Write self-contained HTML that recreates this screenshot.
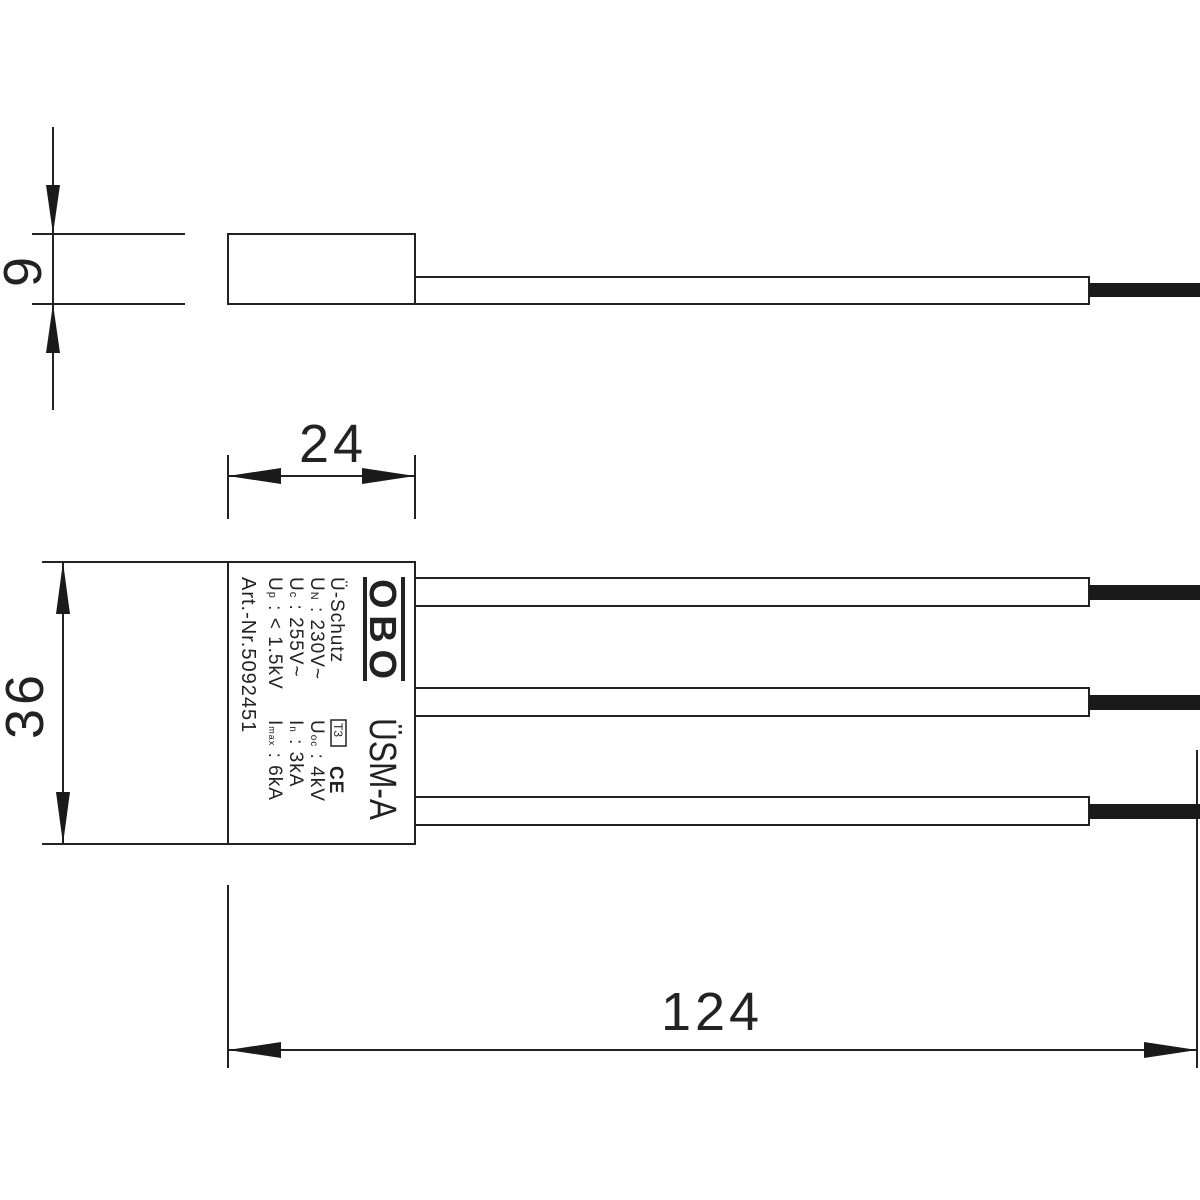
<!DOCTYPE html>
<html><head><meta charset="utf-8"><style>html,body{margin:0;padding:0;background:#fff}svg{display:block}</style></head>
<body>
<svg width="1200" height="1200" viewBox="0 0 1200 1200" xmlns="http://www.w3.org/2000/svg" font-family="Liberation Sans, sans-serif">
<rect width="1200" height="1200" fill="#fff"/>
<g stroke="#222" stroke-width="2" fill="none">
<rect x="228" y="234" width="187" height="70"/>
<rect x="415" y="277" width="674" height="27"/>
<line x1="32" y1="234" x2="185" y2="234"/>
<line x1="32" y1="304" x2="185" y2="304"/>
<line x1="53" y1="127" x2="53" y2="410"/>
<line x1="228" y1="455" x2="228" y2="519"/>
<line x1="415" y1="455" x2="415" y2="519"/>
<line x1="228" y1="476" x2="415" y2="476"/>
<rect x="228" y="562" width="187" height="282"/>
<rect x="415" y="578" width="674" height="28"/>
<rect x="415" y="688" width="674" height="28"/>
<rect x="415" y="797" width="674" height="28"/>
<line x1="42" y1="562" x2="228" y2="562"/>
<line x1="42" y1="844" x2="228" y2="844"/>
<line x1="63" y1="562" x2="63" y2="844"/>
<line x1="228" y1="885" x2="228" y2="1068"/>
<line x1="1197" y1="750" x2="1197" y2="1068"/>
<line x1="228" y1="1050" x2="1197" y2="1050"/>
</g>
<g fill="#1a1a1a">
<rect x="1089" y="283" width="111" height="14"/>
<rect x="1089" y="585" width="111" height="15"/>
<rect x="1089" y="695" width="111" height="15"/>
<rect x="1089" y="804" width="111" height="15"/>
<polygon points="53,234 46,185 60,185"/>
<polygon points="53,304 46,353 60,353"/>
<polygon points="228,476 281,468 281,484"/>
<polygon points="415,476 362,468 362,484"/>
<polygon points="63,562 56,614 70,614"/>
<polygon points="63,844 56,792 70,792"/>
<polygon points="228,1050 281,1042 281,1058"/>
<polygon points="1197,1050 1144,1042 1144,1058"/>
</g>
<g fill="#222" font-size="54" letter-spacing="4">
<text x="333" y="462" text-anchor="middle">24</text>
<text x="712" y="1030" text-anchor="middle">124</text>
<text transform="translate(41,270) rotate(-90)" text-anchor="middle">9</text>
<text transform="translate(43,705) rotate(-90)" text-anchor="middle">36</text>
</g>
<g fill="#222">
<g transform="translate(370,718) rotate(90)"><text font-size="38" textLength="102" lengthAdjust="spacingAndGlyphs">ÜSM-A</text></g>
<g transform="translate(405,577) rotate(90)">
<rect x="0" y="0" width="104" height="4"/>
<rect x="0" y="38" width="104" height="4"/>
<text x="52" y="35" font-size="38" font-weight="bold" text-anchor="middle" textLength="100">OBO</text>
</g>
<g font-size="19" letter-spacing="1">
<text transform="translate(331,577) rotate(90)">Ü-Schutz</text>
<text transform="translate(311,577) rotate(90)">U<tspan font-size="11">N</tspan> :  230V~</text>
<text transform="translate(290,577) rotate(90)">U<tspan font-size="11">c</tspan>  :  255V~</text>
<text transform="translate(269,577) rotate(90)">U<tspan font-size="11">p</tspan>  :  &lt; 1.5kV</text>
<text transform="translate(242,577) rotate(90)" font-size="20">Art.-Nr.5092451</text>
<text transform="translate(311,720) rotate(90)">U<tspan font-size="10">oc</tspan> :     4kV</text>
<text transform="translate(290,720) rotate(90)">I<tspan font-size="10">n</tspan>   :     3kA</text>
<text transform="translate(269,720) rotate(90)">I<tspan font-size="9">max</tspan> :     6kA</text>
<text transform="translate(330,766) rotate(90)" font-weight="bold" font-size="19">CE</text>
</g>
<rect x="331" y="720" width="15" height="26" fill="none" stroke="#222" stroke-width="1.5"/>
<text transform="translate(334,723) rotate(90)" font-size="12">T3</text>
</g>
</svg>
</body></html>
